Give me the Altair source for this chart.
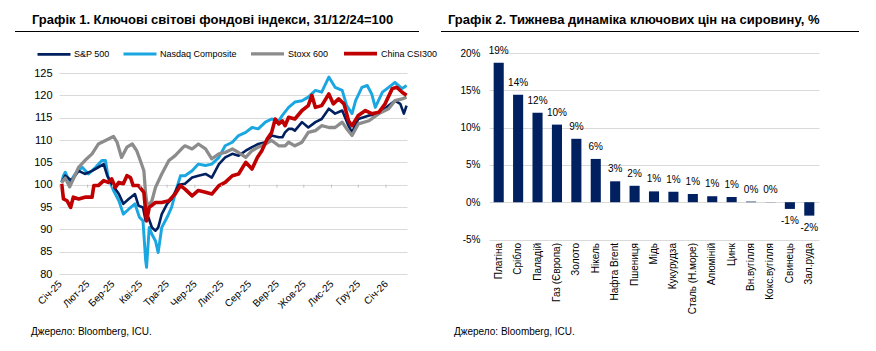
import altair as alt
import pandas as pd

SMALL = "Liberation Sans, Arial, sans-serif"
BOLD = "Liberation Sans, Arial, sans-serif"

# ---------------- Chart 1: stock indices (31/12/24 = 100) ----------------
BASE = "2025-01-01"  # day 0
title1 = "Графік 1. Ключові світові фондові індекси, 31/12/24=100"
source_text = "Джерело: Bloomberg, ICU."

series_names = ["S&P 500", "Nasdaq Composite", "Stoxx 600", "China CSI300"]
series_colors = ["#002060", "#1AA7E1", "#8C8C8C", "#C00000"]
series_widths = [2.6, 3.6, 2.6, 2.6]

sp_days = [2, 6, 13, 21, 28, 36, 43, 49, 53, 58, 66, 71, 77, 84, 88, 93, 96, 99, 103, 107, 110, 114, 120,
           125, 133, 140, 148, 155, 163, 170, 178, 185, 193, 200, 208, 215, 222, 230, 237, 245, 249, 252,
           256, 260, 263, 271, 278, 286, 293, 301, 308, 316, 323, 327, 334, 346, 357, 368, 375, 381, 385, 388]
sp_vals = [100.5, 102.0, 100.9, 103.1, 102.4, 103.1, 103.9, 104.6, 102.0, 100.2, 97.9, 95.7, 96.8, 97.9,
           95.3, 94.9, 91.9, 92.7, 90.4, 89.7, 90.4, 93.4, 95.7, 96.8, 100.0, 100.2, 101.6, 102.0, 102.4,
           101.6, 104.6, 106.1, 106.9, 106.5, 107.6, 108.4, 109.1, 109.5, 111.0, 110.6, 110.6, 111.7,
           112.5, 112.5, 112.1, 114.0, 112.8, 114.0, 114.7, 117.0, 115.9, 116.6, 113.2, 111.7, 114.7,
           115.5, 115.9, 117.7, 118.8, 118.1, 115.9, 117.7]

nq_days = [2, 4, 6, 11, 17, 25, 32, 40, 47, 51, 54, 60, 66, 71, 77, 84, 89, 93, 96, 97, 100, 103, 107, 110,
           114, 120, 125, 131, 135, 140, 148, 155, 163, 170, 178, 185, 193, 200, 208, 215, 222, 230, 237,
           245, 249, 256, 263, 271, 278, 286, 293, 301, 308, 316, 321, 327, 331, 338, 344, 349, 353, 361,
           368, 375, 383, 388]
nq_vals = [100.5, 102.0, 102.8, 100.5, 102.4, 103.9, 102.4, 103.9, 105.4, 105.4, 101.6, 98.7, 96.4, 93.4,
           94.5, 95.7, 92.7, 91.9, 83.0, 81.5, 90.4, 88.9, 87.4, 84.8, 90.4, 92.7, 94.9, 99.4, 102.0, 102.0,
           103.1, 104.6, 104.3, 104.6, 106.1, 108.7, 109.5, 111.0, 111.7, 112.8, 112.5, 114.0, 114.7, 114.3,
           115.5, 117.3, 118.5, 118.8, 119.6, 121.1, 120.7, 124.1, 121.8, 121.1, 117.7, 115.9, 118.8, 121.8,
           122.2, 120.3, 117.3, 120.7, 121.8, 122.9, 121.5, 122.2]

sx_days = [2, 6, 11, 21, 28, 36, 43, 51, 60, 64, 69, 75, 81, 86, 90, 94, 96, 98, 103, 107, 114, 122, 129,
           137, 140, 148, 155, 163, 170, 178, 185, 193, 200, 208, 215, 222, 230, 237, 245, 252, 256, 263,
           271, 278, 286, 293, 301, 308, 316, 321, 327, 334, 346, 357, 368, 375, 383, 388]
sx_vals = [100.5, 101.5, 99.5, 103.9, 105.4, 106.9, 109.1, 109.9, 110.8, 109.5, 106.1, 108.4, 109.1, 107.6,
           105.4, 103.1, 97.9, 95.0, 96.4, 99.4, 102.4, 105.4, 106.5, 108.2, 108.7, 108.0, 109.1, 108.0,
           105.8, 106.9, 107.2, 108.0, 107.2, 106.1, 107.6, 108.4, 109.1, 109.9, 108.7, 108.7, 109.5, 108.7,
           109.5, 111.7, 112.1, 113.2, 112.8, 112.8, 114.0, 112.5, 111.0, 113.6, 114.3, 115.9, 117.0, 118.8,
           119.2, 119.6]

cn_days = [2, 4, 8, 12, 15, 21, 28, 36, 38, 43, 49, 54, 58, 62, 66, 71, 75, 79, 82, 88, 94, 97, 100, 107,
           114, 122, 129, 135, 140, 148, 155, 163, 170, 178, 185, 193, 200, 208, 215, 221, 226, 232, 237,
           241, 245, 249, 252, 256, 263, 271, 278, 282, 286, 293, 301, 306, 312, 318, 323, 327, 334, 342,
           349, 357, 364, 372, 377, 383, 388]
cn_vals = [100.2, 96.8, 96.4, 94.9, 97.2, 96.8, 97.2, 97.2, 99.8, 99.8, 100.9, 100.5, 101.3, 99.4, 100.5,
           100.2, 102.0, 101.6, 99.8, 99.8, 98.3, 91.9, 94.9, 96.0, 96.0, 96.4, 97.9, 99.8, 99.0, 97.5, 98.7,
           98.3, 97.9, 99.8, 100.5, 102.0, 102.4, 105.0, 103.5, 106.1, 107.6, 110.2, 111.7, 114.7, 113.6,
           114.3, 113.2, 115.1, 114.7, 116.6, 117.7, 120.0, 117.3, 117.7, 120.3, 118.1, 119.2, 118.1, 114.3,
           113.2, 115.5, 116.6, 115.9, 116.2, 118.1, 121.5, 121.8, 120.7, 120.0]

month_ticks = ["2025-01-01", "2025-02-01", "2025-03-01", "2025-04-01", "2025-05-01", "2025-06-01",
               "2025-07-01", "2025-08-01", "2025-09-01", "2025-10-01", "2025-11-01", "2025-12-01",
               "2026-01-01"]
month_names = ["Січ", "Лют", "Бер", "Кві", "Тра", "Чер", "Лип", "Сер", "Вер", "Жов", "Лис", "Гру"]
y1_ticks = [80, 85, 90, 95, 100, 105, 110, 115, 120, 125]

# ---------------- Chart 2: weekly commodity price change, % ----------------
title2 = "Графік 2. Тижнева динаміка ключових цін на сировину, %"
commodities = ["Платіна", "Срібло", "Паладій", "Газ (Європа)", "Золото", "Нікель", "Нафта Brent",
               "Пшениця", "Мідь", "Кукурудза", "Сталь (Н.море)", "Алюміній", "Цинк", "Вн.вугілля",
               "Кокс.вугілля", "Свинець", "Зал.руда"]
changes = [18.7, 14.4, 12.0, 10.4, 8.5, 5.8, 2.8, 2.2, 1.45, 1.4, 1.1, 0.8, 0.7, 0.08, 0.02, -0.9, -1.8]
y2_ticks = [-5, 0, 5, 10, 15, 20]


def ms(d):
    return int(pd.Timestamp(d, tz="UTC").timestamp() * 1000)


def to_dates(days):
    return [(pd.Timestamp(BASE) + pd.Timedelta(days=int(d))).strftime("%Y-%m-%d") for d in days]


# drawing order: Nasdaq bottom, then S&P, Stoxx, China on top
frames = []
for name, days, vals in [("Nasdaq Composite", nq_days, nq_vals), ("S&P 500", sp_days, sp_vals),
                         ("Stoxx 600", sx_days, sx_vals), ("China CSI300", cn_days, cn_vals)]:
    frames.append(pd.DataFrame({"series": name, "date": to_dates(days), "value": vals}))
df1 = pd.concat(frames, ignore_index=True)

# plot area starts 20px above the 125 gridline so both panels share the same origin
PX_PER_UNIT = 201 / 45
W1, H1 = 348, 221
y1_top = 80 + H1 / PX_PER_UNIT
x_dom = [ms("2024-12-31"), ms("2026-01-24 12:00")]
names_js = "[" + ",".join("'" + m + "'" for m in month_names) + "]"

x_scale = alt.Scale(type="utc", domain=x_dom)
x_axis = alt.Axis(values=[ms(t) for t in month_ticks],
                  labelExpr=names_js + "[utcmonth(datum.value)] + '-' + utcFormat(datum.value, '%y')",
                  labelAngle=-45, labelAlign="right", labelBaseline="middle", labelOverlap=False,
                  grid=False, domain=False, ticks=False, labelPadding=8, title=None,
                  labelFont=SMALL, labelFontSize=10, labelColor="#000000")
y_scale = alt.Scale(domain=[80, y1_top], nice=False, zero=False)
y_axis = alt.Axis(values=y1_ticks, grid=True, gridColor="#D9D9D9", domain=False, ticks=False,
                  labelOverlap=False, labelPadding=7, title=None, labelFont=SMALL,
                  labelFontSize=11, labelColor="#000000")

lines = alt.Chart(df1).mark_line(strokeJoin="round").encode(
    x=alt.X("date:T", scale=x_scale, axis=x_axis),
    y=alt.Y("value:Q", scale=y_scale, axis=y_axis),
    color=alt.Color("series:N", scale=alt.Scale(domain=series_names, range=series_colors),
                    legend=alt.Legend(title=None, orient="none", legendX=-23, legendY=-18,
                                      direction="horizontal", symbolType="stroke", symbolSize=1089,
                                      symbolStrokeWidth=4, labelFont=SMALL, labelFontSize=9,
                                      labelColor="#000000", labelOffset=2, columnPadding=7)),
    strokeWidth=alt.StrokeWidth("series:N", scale=alt.Scale(domain=series_names, range=series_widths),
                                legend=None),
)

tick_df = pd.DataFrame({"date": month_ticks})
tickmarks = alt.Chart(tick_df).mark_rule(color="#BFBFBF", strokeWidth=1).encode(
    x=alt.X("date:T", scale=x_scale, axis=x_axis),
    y=alt.Y(datum=100, scale=y_scale, axis=y_axis),
    y2=alt.datum(99.33))

t1 = alt.Chart(pd.DataFrame({"t": [title1]})).mark_text(
    font=BOLD, fontSize=13, fontWeight="bold", align="left", baseline="alphabetic", color="#000000"
).encode(x=alt.value(-27), y=alt.value(-29), text="t:N")
rule1 = alt.Chart(pd.DataFrame({"t": [1]})).mark_rule(color="#000000", strokeWidth=1.2).encode(
    x=alt.value(-44), x2=alt.value(360), y=alt.value(-21.5))
s1 = alt.Chart(pd.DataFrame({"t": [source_text]})).mark_text(
    font=SMALL, fontSize=10, align="left", baseline="alphabetic", color="#000000"
).encode(x=alt.value(-28), y=alt.value(282), text="t:N")

left = alt.layer(lines, tickmarks, t1, rule1, s1).properties(width=W1, height=H1)

# ---------------- right chart ----------------
df2 = pd.DataFrame({"name": commodities, "v": changes})
W2, H2 = 330, 186.5

xb = alt.X("name:N", sort=None, scale=alt.Scale(paddingInner=0.48, paddingOuter=0.24),
           axis=alt.Axis(labelAngle=-90, labelAlign="right", labelBaseline="middle", ticks=False,
                         domain=False, labelPadding=3, title=None, labelFont=SMALL, labelFontSize=10,
                         labelColor="#000000", labelOverlap=False))
yb = alt.Y("v:Q", scale=alt.Scale(domain=[-5, 20], nice=False),
           axis=alt.Axis(values=y2_ticks, labelExpr="datum.value + '%'", grid=True, gridColor="#D9D9D9",
                         domain=False, ticks=False, labelPadding=9, title=None, labelFont=SMALL,
                         labelFontSize=10, labelColor="#000000", labelOverlap=False))

base2 = alt.Chart(df2).transform_calculate(lab="round(datum.v) + '%'")
bars = base2.mark_bar(color="#002060").encode(x=xb, y=yb)
pos_lab = base2.transform_filter("datum.v >= 0").mark_text(
    font=SMALL, fontSize=10, baseline="bottom", dy=-7, color="#000000").encode(x=xb, y=yb, text="lab:N")
neg_lab = base2.transform_filter("datum.v < 0").mark_text(
    font=SMALL, fontSize=10, baseline="top", dy=7, color="#000000").encode(x=xb, y=yb, text="lab:N")

t2 = alt.Chart(pd.DataFrame({"t": [title2]})).mark_text(
    font=BOLD, fontSize=13, fontWeight="bold", align="left", baseline="alphabetic", color="#000000"
).encode(x=alt.value(-41), y=alt.value(-29), text="t:N")
rule2 = alt.Chart(pd.DataFrame({"t": [1]})).mark_rule(color="#000000", strokeWidth=1.2).encode(
    x=alt.value(-48), x2=alt.value(370), y=alt.value(-21.5))
s2 = alt.Chart(pd.DataFrame({"t": [source_text]})).mark_text(
    font=SMALL, fontSize=10, align="left", baseline="alphabetic", color="#000000"
).encode(x=alt.value(-35), y=alt.value(282), text="t:N")

right = alt.layer(bars, pos_lab, neg_lab, t2, rule2, s2).properties(width=W2, height=H2)

chart = alt.hconcat(left, right, spacing=18).properties(
    padding={"left": 13, "top": 13, "right": 5, "bottom": 5}, background="#FFFFFF"
).configure_view(stroke="transparent")

chart.save("out.html", embed_options={"renderer": "svg", "actions": False})
